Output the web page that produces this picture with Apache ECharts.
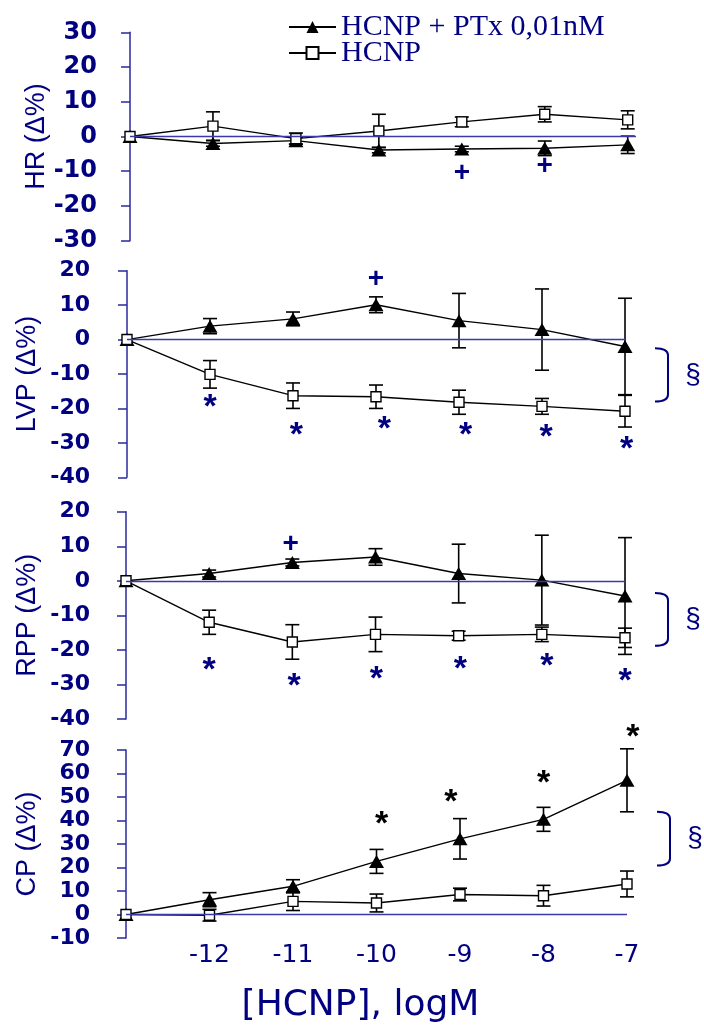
<!DOCTYPE html>
<html>
<head>
<meta charset="utf-8">
<script src="https://cdn.jsdelivr.net/npm/echarts@6/dist/echarts.min.js"></script>
<style>
  html, body { margin: 0; padding: 0; background: #fff; }
  #chart { width: 704px; height: 1025px; }
</style>
</head>
<body>
<div id="chart"></div>
<script>
// Log molar concentration of HCNP; -13 is the control point drawn on the y axis.
const doses = [-13, -12, -11, -10, -9, -8, -7];
const xTickLabels = ['-12', '-11', '-10', '-9', '-8', '-7'];
const seriesNames = ['HCNP + PTx 0,01nM', 'HCNP'];

// Heart rate, % change (mean, SEM)
const hrPtx     = [0, -2.0, -1.2, -3.9, -3.6, -3.4, -2.4];
const hrPtxSem  = [0, 0.8, 1.0, 0.8, 0.8, 2.1, 2.5];
const hrHcnp    = [0, 3.0, -0.6, 1.6, 4.2, 6.4, 4.8];
const hrHcnpSem = [0, 4.1, 1.6, 4.8, 1.4, 2.2, 2.6];

// Left ventricular pressure, % change
const lvpPtx     = [0, 3.9, 6.0, 10.1, 5.5, 2.9, -2.0];
const lvpPtxSem  = [0, 2.2, 2.0, 2.3, 7.9, 11.8, 14.0];
const lvpHcnp    = [0, -10.1, -16.3, -16.6, -18.2, -19.4, -20.8];
const lvpHcnpSem = [0, 4.0, 3.7, 3.4, 3.5, 2.3, 4.6];

// Rate-pressure product, % change
const rppPtx     = [0, 2.1, 5.3, 6.9, 2.1, 0.2, -4.4];
const rppPtxSem  = [0, 1.0, 1.0, 2.4, 8.5, 13.0, 16.9];
const rppHcnp    = [0, -12.0, -17.7, -15.5, -15.9, -15.5, -16.5];
const rppHcnpSem = [0, 3.5, 5.0, 5.0, 1.3, 2.1, 2.8];

// Coronary pressure, % change
const cpPtx     = [0, 6.3, 12.0, 22.6, 32.2, 40.5, 57.1];
const cpPtxSem  = [0, 3.0, 2.8, 5.1, 8.6, 5.1, 13.4];
const cpHcnp    = [0, -0.3, 5.6, 4.9, 8.5, 8.0, 13.0];
const cpHcnpSem = [0, 2.5, 3.9, 3.8, 2.7, 4.4, 5.5];

// Significance marks, anchored in axis units [logM, %]
const hrPlus   = [[-9, -10.7], [-8, -8.5]];
const lvpPlus  = [[-10, 17.4]];
const lvpStars = [[-12, -17.7], [-10.96, -26.0], [-9.9, -24.0], [-8.92, -26.0], [-7.95, -26.3], [-6.98, -29.9]];
const rppPlus  = [[-11.02, 10.6]];
const rppStars = [[-12, -23.9], [-10.98, -28.7], [-9.99, -26.5], [-8.98, -23.6], [-7.94, -22.8], [-7, -27.3]];
const cpStars  = [[-9.94, 41.2], [-9.11, 50.4], [-8, 58.8], [-6.93, 78.3]];

// Group-difference brackets (§): [top, bottom] in %
const lvpBracket = [-2.5, -18.0];
const rppBracket = [-3.5, -18.8];
const cpBracket  = [43.7, 20.9];

const NAVY = '#000080';
const AXIS_BLUE = '#2a2a9c';
const ZERO_BLUE = '#3a3aa6';

const panels = [
  { name: 'HR (Δ%)',  min: -30, max: 30, grid: { left: 130, top: 32.3, width: 506, height: 208.4 }, xMax: -6.9, labelSize: 24, labelMargin: 33, nameGap: 80 },
  { name: 'LVP (Δ%)', min: -40, max: 20, grid: { left: 127, top: 270.7, width: 498, height: 206.6 }, xMax: -7, labelSize: 22, labelMargin: 37, nameGap: 86 },
  { name: 'RPP (Δ%)', min: -40, max: 20, grid: { left: 126, top: 511.7, width: 499, height: 207.3 }, xMax: -7, labelSize: 22, labelMargin: 36, nameGap: 85 },
  { name: 'CP (Δ%)',  min: -10, max: 70, grid: { left: 126, top: 750, width: 501, height: 189 }, xMax: -7, labelSize: 22, labelMargin: 36, nameGap: 85 }
];

function errorBar(params, api) {
  const x = api.value(0), m = api.value(1), s = api.value(2);
  if (!s) return null;
  const top = api.coord([x, m + s]);
  const bot = api.coord([x, m - s]);
  const hw = 7;
  const style = { stroke: '#000', lineWidth: 1.6 };
  return {
    type: 'group',
    children: [
      { type: 'line', shape: { x1: top[0], y1: top[1], x2: bot[0], y2: bot[1] }, style },
      { type: 'line', shape: { x1: top[0] - hw, y1: top[1], x2: top[0] + hw, y2: top[1] }, style },
      { type: 'line', shape: { x1: bot[0] - hw, y1: bot[1], x2: bot[0] + hw, y2: bot[1] }, style }
    ]
  };
}

function bracket(params, api) {
  const top = api.coord([api.value(0), api.value(1)]);
  const bot = api.coord([api.value(0), api.value(2)]);
  const x0 = top[0] + 30, x1 = top[0] + 43, r = 7;
  const d = `M${x0} ${top[1]} Q${x1} ${top[1]} ${x1} ${top[1] + r} L${x1} ${bot[1] - r} Q${x1} ${bot[1]} ${x0} ${bot[1]}`;
  return {
    type: 'group',
    children: [
      { type: 'path', shape: { pathData: d }, style: { stroke: NAVY, fill: null, lineWidth: 2 } },
      { type: 'text', x: top[0] + 68, y: (top[1] + bot[1]) / 2,
        style: { text: '§', fill: NAVY, fontFamily: 'Liberation Sans', fontSize: 28, align: 'center', verticalAlign: 'middle' } }
    ]
  };
}

function panelSeries(i, ptx, ptxSem, hcnp, hcnpSem) {
  const pts = m => doses.map((d, k) => [d, m[k]]);
  const bars = (m, s) => doses.map((d, k) => [d, m[k], s[k]]);
  return [
    {
      type: 'custom', xAxisIndex: i, yAxisIndex: i, renderItem: errorBar, data: bars(ptx, ptxSem),
      encode: { x: 0, y: 1 }, z: 2, silent: true,
      markLine: {
        silent: true, symbol: ['none', 'none'], label: { show: false },
        lineStyle: { color: ZERO_BLUE, width: 1.3, type: 'solid' },
        emphasis: { disabled: true }, data: [{ yAxis: 0 }]
      }
    },
    {
      type: 'custom', xAxisIndex: i, yAxisIndex: i, renderItem: errorBar, data: bars(hcnp, hcnpSem),
      encode: { x: 0, y: 1 }, z: 2, silent: true
    },
    {
      type: 'line', name: seriesNames[0], xAxisIndex: i, yAxisIndex: i, data: pts(ptx),
      symbol: 'triangle', symbolSize: [15, 13], clip: false, z: 3, silent: true,
      itemStyle: { color: '#000' }, lineStyle: { color: '#000', width: 1.4 }
    },
    {
      type: 'line', name: seriesNames[1], xAxisIndex: i, yAxisIndex: i, data: pts(hcnp),
      symbol: 'rect', symbolSize: 10, clip: false, z: 4, silent: true,
      itemStyle: { color: '#fff', borderColor: '#000', borderWidth: 1.4 }, lineStyle: { color: '#000', width: 1.4 }
    }
  ];
}

function marks(i, pts, text, color, size, dy) {
  return {
    type: 'scatter', xAxisIndex: i, yAxisIndex: i, data: pts, symbolSize: 1, clip: false, z: 6, silent: true,
    itemStyle: { color: 'transparent', opacity: 1 },
    label: {
      show: true, position: 'inside', formatter: text, color, opacity: 1,
      fontFamily: 'Liberation Sans', fontWeight: 'bold', fontSize: size, offset: [0, dy]
    }
  };
}

function bracketSeries(i, b) {
  return {
    type: 'custom', xAxisIndex: i, yAxisIndex: i, renderItem: bracket, silent: true, z: 5,
    data: [[-7, b[0], b[1]]], encode: { x: 0, y: 1 }
  };
}

const option = {
  animation: false,
  backgroundColor: '#fff',
  legend: {
    orient: 'vertical', left: 283, top: 7, itemWidth: 47, itemHeight: 15, itemGap: -4,
    selectedMode: false, data: seriesNames,
    textStyle: { fontFamily: 'Liberation Serif', fontSize: 30, color: NAVY, lineHeight: 26 }
  },
  grid: panels.map(p => p.grid),
  xAxis: panels.map((p, i) => ({
    type: 'value', gridIndex: i, min: -13, max: p.xMax, interval: 1,
    show: i === 3,
    axisLine: { show: false }, axisTick: { show: false }, splitLine: { show: false },
    axisLabel: {
      show: i === 3, margin: 5, color: NAVY, fontFamily: 'DejaVu Sans', fontSize: 25,
      formatter: v => { const k = doses.indexOf(v); return k > 0 ? xTickLabels[k - 1] : ''; }
    },
    name: i === 3 ? '[HCNP], logM' : '', nameLocation: 'middle', nameGap: 50, nameMoveOverlap: false,
    nameTextStyle: { color: NAVY, fontFamily: 'DejaVu Sans', fontSize: 36, padding: [0, 32, 0, 0] }
  })),
  yAxis: panels.map((p, i) => ({
    type: 'value', gridIndex: i, min: p.min, max: p.max, interval: 10,
    axisLine: { show: true, lineStyle: { color: AXIS_BLUE, width: 1.5 } },
    axisTick: { show: true, inside: false, length: 9, lineStyle: { color: AXIS_BLUE, width: 1.5 } },
    splitLine: { show: false },
    axisLabel: { margin: p.labelMargin, color: NAVY, fontFamily: 'DejaVu Sans', fontWeight: 'bold', fontSize: p.labelSize },
    name: p.name, nameLocation: 'middle', nameRotate: 90, nameGap: p.nameGap, nameMoveOverlap: false,
    nameTextStyle: { color: NAVY, fontFamily: 'Liberation Sans', fontSize: 27 }
  })),
  series: [
    ...panelSeries(0, hrPtx, hrPtxSem, hrHcnp, hrHcnpSem),
    ...panelSeries(1, lvpPtx, lvpPtxSem, lvpHcnp, lvpHcnpSem),
    ...panelSeries(2, rppPtx, rppPtxSem, rppHcnp, rppHcnpSem),
    ...panelSeries(3, cpPtx, cpPtxSem, cpHcnp, cpHcnpSem),
    marks(0, hrPlus, '+', NAVY, 28, 0),
    marks(1, lvpPlus, '+', NAVY, 28, 0),
    marks(1, lvpStars, '*', NAVY, 34, 7),
    marks(2, rppPlus, '+', NAVY, 28, 0),
    marks(2, rppStars, '*', NAVY, 34, 7),
    marks(3, cpStars, '*', '#000', 34, 7),
    bracketSeries(1, lvpBracket),
    bracketSeries(2, rppBracket),
    bracketSeries(3, cpBracket)
  ]
};

const chart = echarts.init(document.getElementById('chart'), null, { renderer: 'canvas' });
chart.setOption(option);
</script>
</body>
</html>
